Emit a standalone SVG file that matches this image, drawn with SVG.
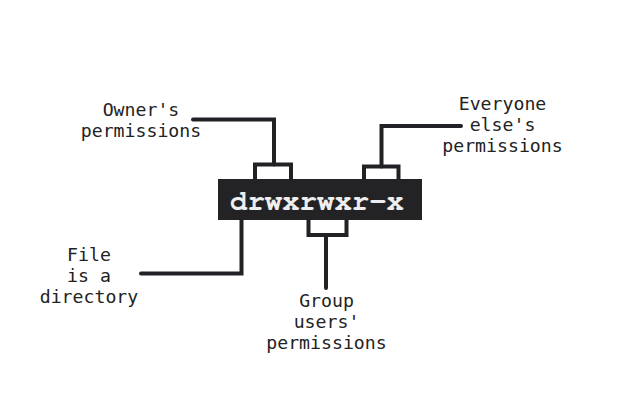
<svg xmlns="http://www.w3.org/2000/svg" width="640" height="400" viewBox="0 0 640 400">
<style>
.lbl{font-family:"DejaVu Sans Mono","Liberation Mono",monospace;font-size:18.2px;fill:#222;text-anchor:middle}
.ln{fill:none;stroke:#222226;stroke-width:4;stroke-linecap:round;stroke-linejoin:miter}
.perm{font-family:"Nimbus Mono PS","Nimbus Mono L","FreeMono","Courier New",Courier,monospace;font-weight:bold;font-size:29px;fill:#eeeeee;text-anchor:middle}
</style>
<rect width="640" height="400" fill="#ffffff"/>
<g id="connectors">
<polyline class="ln" points="193,119.5 274,119.5 274,164.5"/>
<polyline class="ln" points="255,179 255,164.5 291,164.5 291,179" style="stroke-linecap:butt"/>
<polyline class="ln" points="461,126 381.5,126 381.5,166.5"/>
<polyline class="ln" points="364,179 364,166.5 398.5,166.5 398.5,179" style="stroke-linecap:butt"/>
<polyline class="ln" points="308.5,220 308.5,235 346.5,235 346.5,220" style="stroke-linecap:butt"/>
<polyline class="ln" points="326,235 326,288"/>
<polyline class="ln" points="241.5,220 241.5,273.5 141,273.5"/>
</g>
<g id="permissions-string">
<rect x="218" y="179" width="204" height="41" fill="#232326"/>
<text class="perm" x="317" y="210">drwxrwxr-x</text>
</g>
<g id="owner">
<text class="lbl" x="141" y="116">Owner's</text>
<text class="lbl" x="141" y="137">permissions</text>
</g>
<g id="everyone">
<text class="lbl" x="502.5" y="109.5">Everyone</text>
<text class="lbl" x="502.5" y="130.5">else's</text>
<text class="lbl" x="502.5" y="152">permissions</text>
</g>
<g id="file">
<text class="lbl" x="89" y="260.5">File</text>
<text class="lbl" x="89" y="281.5">is a</text>
<text class="lbl" x="89" y="302.5">directory</text>
</g>
<g id="group">
<text class="lbl" x="326.5" y="307">Group</text>
<text class="lbl" x="326.5" y="328">users'</text>
<text class="lbl" x="326.5" y="349">permissions</text>
</g>
</svg>
